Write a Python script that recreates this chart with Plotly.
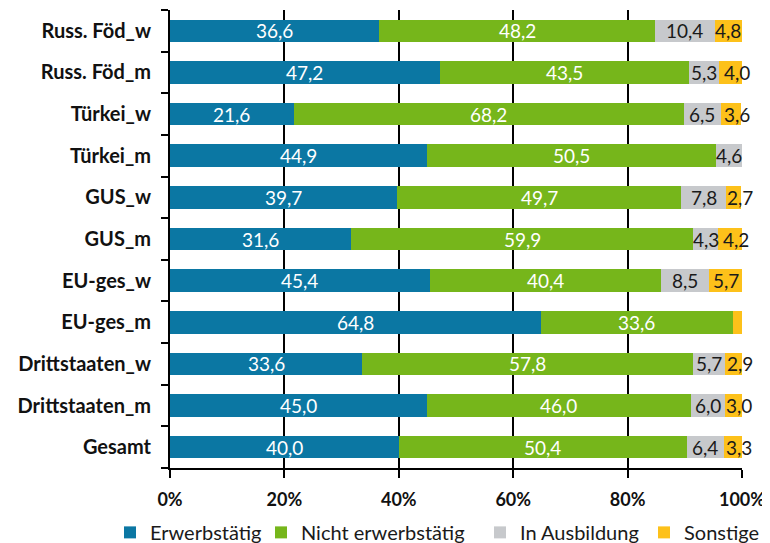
import plotly.graph_objects as go

categories = ["Russ. Föd_w", "Russ. Föd_m", "Türkei_w", "Türkei_m", "GUS_w", "GUS_m",
              "EU-ges_w", "EU-ges_m", "Drittstaaten_w", "Drittstaaten_m", "Gesamt"]
erwerbstaetig = [36.6, 47.2, 21.6, 44.9, 39.7, 31.6, 45.4, 64.8, 33.6, 45.0, 40.0]
nicht_erwerbstaetig = [48.2, 43.5, 68.2, 50.5, 49.7, 59.9, 40.4, 33.6, 57.8, 46.0, 50.4]
in_ausbildung = [10.4, 5.3, 6.5, 4.6, 7.8, 4.3, 8.5, 0.0, 5.7, 6.0, 6.4]
sonstige = [4.8, 4.0, 3.6, 0.0, 2.7, 4.2, 5.7, 1.6, 2.9, 3.0, 3.3]
sonstige_labelled = [True, True, True, False, True, True, True, False, True, True, True]
tick_vals = [0, 20, 40, 60, 80, 100]
tick_text = ["0%", "20%", "40%", "60%", "80%", "100%"]

FONT = "Lato"
# page has an 8px body margin: figure is sized to fill the rest of the window
OFF = 8
W, H = 770 - OFF, 543 - OFF
ML, MR, MT, MB = 170 - OFF, 28, 10 - OFF, 75
PW = W - ML - MR


def fmt(v):
    return f"{v:.1f}".replace(".", ",")


series = [
    ("Erwerbstätig", erwerbstaetig, "#0b77a3", "white", [True] * 11),
    ("Nicht erwerbstätig", nicht_erwerbstaetig, "#76b61b", "white", [True] * 11),
    ("In Ausbildung", in_ausbildung, "#c7c9cc", "#1a1a1a", [True] * 11),
    ("Sonstige", sonstige, "#fdc11a", "#1a1a1a", sonstige_labelled),
]
legend_ids = ["legend", "legend2", "legend3", "legend4"]
legend_left_page_px = [110, 261, 480, 644]

fig = go.Figure()
base = [0.0] * len(categories)
annotations = []
for k, ((name, vals, color, tcol, show), lid) in enumerate(zip(series, legend_ids)):
    fig.add_trace(go.Bar(
        y=categories, x=vals, name=name, orientation="h",
        marker=dict(color=color, line=dict(width=0)),
        hoverinfo="skip", legend=lid,
    ))
    for i, (c, v, s) in enumerate(zip(categories, vals, show)):
        if s and v > 0:
            shift = 6 if (k == 3 and v < 4.5) else 0
            annotations.append(dict(
                x=base[i] + v / 2, y=c, xref="x", yref="y", text=fmt(v),
                showarrow=False, xanchor="center", yanchor="middle", xshift=shift,
                font=dict(family=FONT, size=19, color=tcol)))
        base[i] += v

legends = {}
for lid, lx in zip(legend_ids, legend_left_page_px):
    legends[lid] = dict(orientation="h", x=(lx - (ML + OFF)) / PW, xanchor="left",
                        y=-0.098, yanchor="top", bgcolor="rgba(0,0,0,0)",
                        font=dict(family=FONT, size=20, color="#1a1a1a"),
                        itemwidth=30)

fig.update_layout(
    barmode="stack", bargap=0.46,
    width=W, height=H,
    margin=dict(l=ML, r=MR, t=MT, b=MB, autoexpand=False),
    plot_bgcolor="white", paper_bgcolor="white",
    font=dict(family=FONT, size=18, color="#1a1a1a"),
    showlegend=True,
    annotations=annotations,
    **legends,
)
fig.update_xaxes(range=[0, 100], tickmode="array", tickvals=tick_vals,
                 ticktext=[f"<b>{t}</b>" for t in tick_text],
                 showgrid=True, gridcolor="black", gridwidth=1.5,
                 showline=True, linecolor="black", linewidth=2,
                 ticks="outside", ticklen=8, tickwidth=2, tickcolor="black",
                 ticklabelstandoff=6,
                 tickfont=dict(family=FONT, size=18, color="#111"),
                 tickangle=0, zeroline=False, fixedrange=True)
fig.update_yaxes(autorange="reversed", showgrid=False,
                 showline=True, linecolor="black", linewidth=2,
                 ticks="outside", ticklen=7, tickwidth=2, tickcolor="black",
                 tickson="boundaries", ticklabelstandoff=13,
                 tickmode="array", tickvals=categories,
                 ticktext=[f"<b>{c}</b>" for c in categories],
                 tickfont=dict(family=FONT, size=20, color="#111"))

fig.write_html("out.html")
